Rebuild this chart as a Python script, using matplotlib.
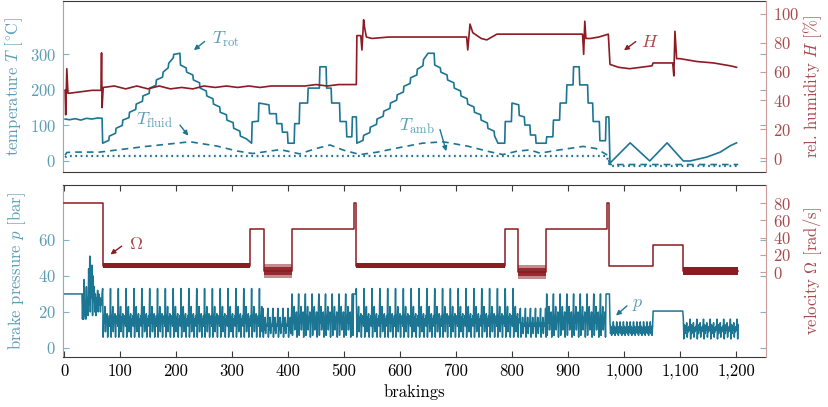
import numpy as np
import matplotlib.pyplot as plt
from matplotlib.ticker import FuncFormatter

plt.rcParams['font.family'] = 'serif'
plt.rcParams['font.serif'] = ['cmr10']
plt.rcParams['mathtext.fontset'] = 'cm'
plt.rcParams['axes.formatter.use_mathtext'] = True
plt.rcParams['font.size'] = 12

# ---- top panel: temperatures [°C] and humidity [%] ----
t_rot_brk = [2, 10, 20, 30, 40, 50, 60, 68, 69,
             80, 81, 92, 93, 104, 105, 116, 117, 128, 129, 140, 141, 152, 153, 164, 165, 176,
             177, 186, 187, 195, 196, 207,
             208, 218, 219, 230, 231, 242, 243, 254, 255, 266, 267, 278, 279, 290, 291, 302,
             303, 314, 315, 326, 335, 336, 347, 348, 366, 367, 379, 380, 389, 390, 399, 400,
             410, 411, 412, 420, 421, 435, 436, 456, 457, 468, 469, 477, 478, 492, 493, 504,
             505, 514, 515, 522, 523,
             534, 535, 546, 547, 558, 559, 570, 571, 582, 583, 594, 595, 606, 607, 618, 619, 630,
             631, 641, 642, 650, 661,
             662, 672, 673, 684, 685, 696, 697, 708, 709, 720, 721, 732, 733, 744, 745, 756,
             757, 768, 769, 775, 784, 787, 788, 799, 800, 812, 813, 822, 823, 832, 833, 842,
             843, 861, 862, 873, 874, 885, 886, 897, 898, 909, 910, 920, 921, 935, 936, 944,
             945, 956, 957, 967, 968, 973, 975, 1011, 1046, 1077,
             1106, 1118, 1148, 1172, 1190, 1201]
t_rot = [118, 116, 119, 115, 120, 118, 121, 120, 50,
         58, 70, 78, 92, 100, 115, 122, 137, 145, 160, 168, 183, 190, 205, 213, 228, 236,
         250, 262, 275, 290, 300, 303,
         270, 262, 250, 242, 228, 220, 205, 197, 183, 175, 160, 152, 137, 130, 115, 108,
         92, 84, 70, 62, 50, 110, 112, 163, 158, 133, 133, 105, 105, 81, 81, 50,
         50, 50, 105, 105, 163, 163, 205, 205, 265, 265, 205, 205, 163, 163, 111, 111,
         68, 68, 124, 124, 50,
         58, 72, 80, 95, 103, 118, 126, 140, 148, 163, 171, 186, 194, 210, 218, 234, 242,
         258, 268, 285, 303, 303,
         270, 262, 250, 242, 228, 220, 205, 197, 183, 175, 160, 152, 137, 130, 115, 107,
         92, 84, 70, 50, 50, 50, 111, 111, 163, 158, 128, 124, 101, 101, 73, 73,
         50, 50, 68, 68, 115, 115, 163, 163, 214, 214, 265, 265, 214, 214, 163, 163,
         111, 111, 57, 57, 124, 124, -6, 51, 0, 51,
         0, 0, 11, 25, 43, 51]

t_fluid_brk = [2, 5, 20, 64, 141, 183, 225, 273, 309, 337, 386, 421, 450, 475, 500, 529, 560,
               600, 640, 677, 720, 760, 784, 810, 832, 850, 880, 927, 950, 969, 975, 1204]
t_fluid = [16, 24, 25, 25, 40, 47, 54, 42, 28, 21, 32, 20, 35, 45, 30, 18, 25,
           38, 50, 54, 42, 26, 18, 28, 31, 22, 30, 41, 35, 18, -10, -10]

t_amb_brk = [2, 5, 300, 600, 969, 975, 1204]
t_amb = [10, 14, 14, 14, 14, -14, -14]

hum_brk = [2, 3, 5, 7, 10, 30, 50, 66, 67, 68, 70, 90, 110, 130, 150, 170, 190, 210, 230,
           250, 270, 290, 310, 330, 350, 370, 390, 410, 430, 450, 470, 490, 510, 522, 523,
           530, 532, 535, 537, 540, 550, 580, 610, 640, 670, 700, 719, 721, 725, 730, 745,
           755, 773, 800, 850, 900, 926, 928, 930, 932, 940, 955, 972, 975, 990, 1010, 1030,
           1050, 1052, 1087, 1089, 1091, 1094, 1100, 1130, 1160, 1190, 1201]
humidity = [47, 30, 62, 45, 45, 46, 47, 47, 73, 35, 49, 50, 48, 50, 48, 50, 48, 49, 48,
            50, 49, 50, 49, 50, 49, 50, 50, 50, 50, 51, 50, 51, 51, 51, 85,
            85, 75, 96, 90, 84, 83, 84, 84, 84, 84, 84, 84, 75, 93, 87, 83,
            82, 86, 86, 86, 86, 86, 72, 95, 83, 83, 84, 86, 65, 63, 62, 63,
            64, 66, 66, 57, 88, 69, 69, 67, 66, 64, 63]

# ---- bottom panel: brake pressure [bar] and velocity [rad/s] ----
p_hold_30 = [30]
p_hold_20 = [20.5]
p_startup = [16, 30, 16, 38, 18, 26, 16, 34, 20, 28, 18, 44, 24, 51, 20, 36, 28, 46,
             18, 40, 26, 34, 20, 30, 18, 28, 22, 32, 20, 30, 24, 28, 20, 26, 24, 30]
p_cycle_main = [33, 6, 18, 14, 23, 9, 17, 15, 19, 6, 16, 14, 18, 12]
p_cycle_mid = [30, 7, 18, 14, 23, 10, 17, 15, 20, 6, 16, 17]
p_cycle_small = [22, 6, 14, 10, 17, 8, 13, 12, 15]
p_cycle_low = [14.5, 8, 12, 7, 11, 9]
p_cycle_end = [16, 5, 13, 8, 12, 10, 14, 6, 11, 9, 12, 10]
p_segments = [(0, 33, p_hold_30), (33, 69, p_startup), (69, 355, p_cycle_main),
              (355, 407, p_cycle_small), (407, 517, p_cycle_mid), (517, 522, p_hold_30),
              (522, 815, p_cycle_main), (815, 862, p_cycle_small), (862, 968, p_cycle_mid),
              (968, 975, p_hold_30), (975, 1052, p_cycle_low), (1052, 1106, p_hold_20),
              (1106, 1205, p_cycle_end)]

omega_edges = [0, 69, 333, 357, 407, 517, 521, 788, 811, 860, 969, 974, 1052, 1106, 1204]
omega_level = [80, 7.5, 50, 1.5, 50, 80, 7.5, 50, 0, 50, 80, 6.5, 31, 1.5]
omega_spread = [0, 3, 0, 8, 0, 0, 3, 0, 8, 0, 0, 0, 0, 4.5]

x_ticks = list(range(0, 1201, 100))

teal = '#1b7593'
teal_lab = '#5c9db6'
teal_ax = '#7fb3c6'
red = '#8c1b22'
red_lab = '#a84a4d'
red_ax = '#cf9a9a'
dark = '#3a3a3a'

brk_p, p_vals = [], []
for start, stop, pat in p_segments:
    brk_p.extend(range(start, stop))
    p_vals.extend(np.resize(pat, stop - start))

fig = plt.figure(figsize=(8.29, 4.07), dpi=100)

# top panel
ax1 = fig.add_axes([0.076, 0.5774, 0.848, 0.4201])
ax1b = ax1.twinx()
ax1.plot(t_rot_brk, t_rot, color=teal, lw=1.2)
ax1.plot(t_fluid_brk, t_fluid, color=teal, lw=1.2, dashes=(4, 3))
ax1.plot(t_amb_brk, t_amb, color=teal, lw=1.6, dashes=(0.8, 1.6))
ax1b.plot(hum_brk, humidity, color=red, lw=1.2)
ax1.set_xlim(-1.8, 1253.6)
ax1.set_ylim(-31, 450)
ax1b.set_ylim(-9.7, 109)
ax1.set_yticks([0, 100, 200, 300])
ax1b.set_yticks([0, 20, 40, 60, 80, 100])
ax1.tick_params(axis='x', bottom=False, labelbottom=False)
ax1.tick_params(axis='y', direction='in', length=4, color=teal_ax, labelcolor=teal_lab,
                left=True, right=True, pad=5)
ax1b.tick_params(axis='y', direction='in', length=4, color=red_ax, labelcolor=red_lab, pad=5)
ax1.set_ylabel(r'temperature $T$ [$^{\circ}$C]', color=teal_lab)
ax1.yaxis.set_label_coords(-0.054, 0.5)
ax1b.set_ylabel(r'rel. humidity $H$ [%]', color=red_lab, rotation=90)
ax1b.yaxis.set_label_coords(1.05, 0.5)

ax1.text(289, 341, r'$T_{\mathrm{rot}}$', color=teal_lab, fontsize=13, ha='center', va='center')
ax1.annotate('', xy=(228, 307), xytext=(255, 341),
             arrowprops=dict(arrowstyle='-|>', color=teal, lw=1, mutation_scale=7))
ax1.text(162, 113, r'$T_{\mathrm{fluid}}$', color=teal_lab, fontsize=13, ha='center', va='center')
ax1.annotate('', xy=(225, 65), xytext=(204, 107),
             arrowprops=dict(arrowstyle='-|>', color=teal, lw=1, mutation_scale=7))
ax1.text(630, 96, r'$T_{\mathrm{amb}}$', color=teal_lab, fontsize=13, ha='center', va='center')
ax1.annotate('', xy=(684, 20), xytext=(670, 96),
             arrowprops=dict(arrowstyle='-|>', color=teal, lw=1, mutation_scale=7))
ax1b.text(1046, 80.5, r'$H$', color=red_lab, fontsize=13, ha='center', va='center')
ax1b.annotate('', xy=(996, 73.6), xytext=(1025, 82),
              arrowprops=dict(arrowstyle='-|>', color=red, lw=1, mutation_scale=7))

# bottom panel
ax2 = fig.add_axes([0.076, 0.1229, 0.848, 0.4226])
ax2b = ax2.twinx()
ax2.plot(brk_p, p_vals, color=teal, lw=1.1)
ax2b.plot(omega_edges, omega_level + [omega_level[-1]], color=red, lw=1.1,
          drawstyle='steps-post')
for i, s in enumerate(omega_spread):
    if s > 0:
        xs = [omega_edges[i], omega_edges[i + 1]]
        lvl = omega_level[i]
        if s > 5:
            ax2b.fill_between(xs, lvl - s, lvl + s, color=red, alpha=0.5, lw=0)
            ax2b.fill_between(xs, lvl - s * 0.6, lvl + s * 0.6, color=red, alpha=0.85, lw=0)
        else:
            ax2b.fill_between(xs, lvl - s, lvl + s, color=red, lw=0)
ax2.set_xlim(-1.8, 1253.6)
ax2.set_ylim(-5, 90.5)
ax2b.set_ylim(-98.6, 101)
ax2.set_yticks([0, 20, 40, 60])
ax2b.set_yticks([0, 20, 40, 60, 80])
ax2.set_xticks(x_ticks)
ax2.xaxis.set_major_formatter(FuncFormatter(lambda v, pos: f'{v:,.0f}'))
ax2.tick_params(axis='x', direction='in', length=4, color=dark, top=True, bottom=True, pad=5)
ax2.tick_params(axis='y', direction='in', length=4, color=teal_ax, labelcolor=teal_lab,
                left=True, right=True, pad=5)
ax2b.tick_params(axis='y', direction='in', length=4, color=red_ax, labelcolor=red_lab, pad=5)
ax2.set_ylabel(r'brake pressure $p$ [bar]', color=teal_lab)
ax2.yaxis.set_label_coords(-0.05, 0.5)
ax2b.set_ylabel(r'velocity $\Omega$ [rad/s]', color=red_lab, rotation=90)
ax2b.yaxis.set_label_coords(1.05, 0.5)
ax2.set_xlabel('brakings')
ax2.xaxis.set_label_coords(0.5, -0.16)

ax2b.text(129, 32.5, r'$\Omega$', color=red_lab, fontsize=13, ha='center', va='center')
ax2b.annotate('', xy=(79, 18.5), xytext=(107, 32),
              arrowprops=dict(arrowstyle='-|>', color=red, lw=1, mutation_scale=7))
ax2.text(1025, 24, r'$p$', color=teal_lab, fontsize=13, ha='center', va='center')
ax2.annotate('', xy=(982, 17), xytext=(1009, 24.4),
             arrowprops=dict(arrowstyle='-|>', color=teal, lw=1, mutation_scale=7))

for a, ab in [(ax1, ax1b), (ax2, ax2b)]:
    a.spines['left'].set_color(teal_ax)
    a.spines['right'].set_visible(False)
    a.spines['top'].set_color(dark)
    a.spines['bottom'].set_color(dark)
    ab.spines['right'].set_color(red_ax)
    ab.spines['left'].set_visible(False)
    ab.spines['top'].set_visible(False)
    ab.spines['bottom'].set_visible(False)

fig.savefig('out.png', dpi=100)
